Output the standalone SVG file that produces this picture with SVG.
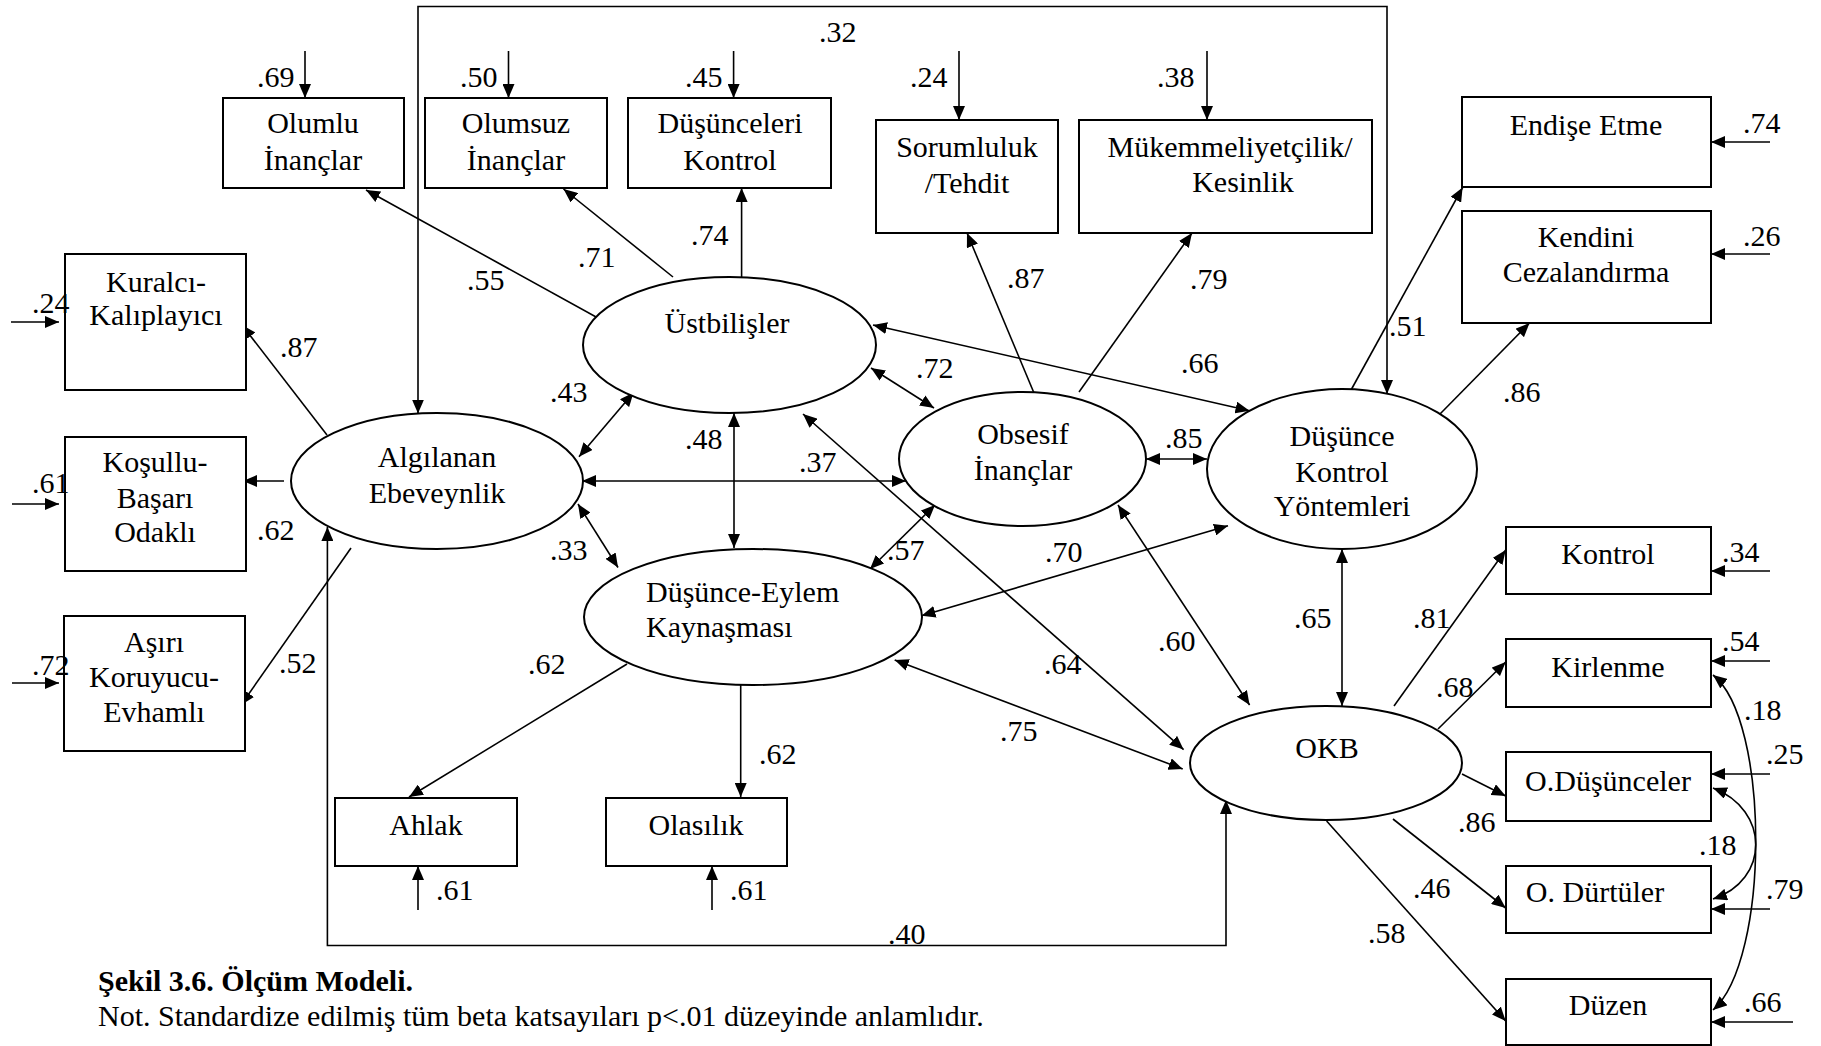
<svg xmlns="http://www.w3.org/2000/svg" width="1821" height="1046" viewBox="0 0 1821 1046">
<defs>
<marker id="ah" viewBox="0 0 14 12" refX="14" refY="6" markerWidth="14" markerHeight="12" markerUnits="userSpaceOnUse" orient="auto-start-reverse">
<path d="M0,0 L14,6 L0,12 z" fill="#000"/>
</marker>
<style>
text{font-family:"Liberation Serif","Times New Roman",serif;font-size:30px;fill:#000}
.c{text-anchor:middle}
.bx{fill:#fff;stroke:#000;stroke-width:2}
.el{fill:#fff;stroke:#000;stroke-width:2}
.ln{fill:none;stroke:#000;stroke-width:1.6}
.a{marker-end:url(#ah)}
.b{marker-start:url(#ah);marker-end:url(#ah)}
.cap{font-weight:bold}
</style>
</defs>
<rect width="1821" height="1046" fill="#fff"/>

<g id="connectors">
<!-- error terms -->
<path class="ln a" d="M305,51 V98"/>
<path class="ln a" d="M508.5,51 V98"/>
<path class="ln a" d="M733.6,51 V98"/>
<path class="ln a" d="M959,51 V120"/>
<path class="ln a" d="M1207,51 V120"/>
<path class="ln a" d="M1770,142 H1711"/>
<path class="ln a" d="M1770,254 H1711"/>
<path class="ln a" d="M11,322 H59"/>
<path class="ln a" d="M12,504 H59"/>
<path class="ln a" d="M12,683 H59"/>
<path class="ln a" d="M418,910 V866"/>
<path class="ln a" d="M712,910 V866"/>
<path class="ln a" d="M1770,571 H1711"/>
<path class="ln a" d="M1770,661 H1711"/>
<path class="ln a" d="M1770,774 H1711"/>
<path class="ln a" d="M1770,909 H1711"/>
<path class="ln a" d="M1793,1022 H1711"/>
<!-- loadings -->
<path class="ln a" d="M607,323 L366,190"/>
<path class="ln a" d="M673,277 L563.5,189"/>
<path class="ln a" d="M741.6,277 L741.6,188"/>
<path class="ln a" d="M1034,393 L967,233"/>
<path class="ln a" d="M1079,392 L1192,233"/>
<path class="ln a" d="M1350.5,391 L1462.6,187.5"/>
<path class="ln a" d="M1440,414 L1529.5,323"/>
<path class="ln a" d="M327,435 L242,325"/>
<path class="ln a" d="M284,481 L243,481"/>
<path class="ln a" d="M351,548 L241,705"/>
<path class="ln a" d="M627,664 L409,797"/>
<path class="ln a" d="M740.7,685 L740.7,797"/>
<path class="ln a" d="M1394,706 L1505.7,550"/>
<path class="ln a" d="M1438,729 L1505.7,662"/>
<path class="ln a" d="M1462,774 L1505.7,796"/>
<path class="ln a" d="M1393,819 L1505.7,908"/>
<path class="ln a" d="M1326.6,821 L1505.7,1021"/>
<!-- correlations -->
<path class="ln b" d="M633.6,392.5 L579,456.7"/>
<path class="ln b" d="M734,413 L734,548"/>
<path class="ln b" d="M582,481 L906,481"/>
<path class="ln b" d="M578,504 L618,567.5"/>
<path class="ln b" d="M871,368 L934,408"/>
<path class="ln b" d="M873,325 L1249.5,410.7"/>
<path class="ln b" d="M1146,459 L1207,459"/>
<path class="ln b" d="M935,505 L870,569"/>
<path class="ln b" d="M921.5,615.7 L1228,525.7"/>
<path class="ln b" d="M803,414 L1183.6,749.6"/>
<path class="ln b" d="M1118,505 L1249.6,705"/>
<path class="ln b" d="M894.7,660 L1182.7,769"/>
<path class="ln b" d="M1342,549 L1342,706"/>
<path class="ln b" d="M327.4,527 V945.5 H1226 V800"/>
<path class="ln b" d="M418,413.6 V6.5 H1387 V394"/>
<path class="ln b" d="M1713,675 C1770,720 1770,960 1713,1010"/>
<path class="ln b" d="M1713,788 C1770,810 1770,880 1713,899"/>
</g>

<g id="n-olumlu"><rect class="bx" x="223" y="98" width="181" height="90"/><text class="c" x="313" y="133">Olumlu</text><text class="c" x="313" y="170">İnançlar</text></g>
<g id="n-olumsuz"><rect class="bx" x="425" y="98" width="182" height="90"/><text class="c" x="516" y="133">Olumsuz</text><text class="c" x="516" y="170">İnançlar</text></g>
<g id="n-dkontrol"><rect class="bx" x="628" y="98" width="203" height="90"/><text class="c" x="730" y="133">Düşünceleri</text><text class="c" x="730" y="170">Kontrol</text></g>
<g id="n-sorumluluk"><rect class="bx" x="876" y="120" width="182" height="113"/><text class="c" x="967" y="157">Sorumluluk</text><text class="c" x="967" y="193">/Tehdit</text></g>
<g id="n-mukemmel"><rect class="bx" x="1079" y="120" width="293" height="113"/><text class="c" x="1230" y="157">Mükemmeliyetçilik/</text><text class="c" x="1243" y="192">Kesinlik</text></g>
<g id="n-endise"><rect class="bx" x="1462" y="97" width="249" height="90"/><text class="c" x="1586" y="135">Endişe Etme</text></g>
<g id="n-kendini"><rect class="bx" x="1462" y="211" width="249" height="112"/><text class="c" x="1586" y="247">Kendini</text><text class="c" x="1586" y="282">Cezalandırma</text></g>
<g id="n-kuralci"><rect class="bx" x="65" y="254" width="181" height="136"/><text class="c" x="156" y="292">Kuralcı-</text><text class="c" x="156" y="325">Kalıplayıcı</text></g>
<g id="n-kosullu"><rect class="bx" x="65" y="437" width="181" height="134"/><text class="c" x="155" y="472">Koşullu-</text><text class="c" x="155" y="508">Başarı</text><text class="c" x="155" y="542">Odaklı</text></g>
<g id="n-asiri"><rect class="bx" x="64" y="616" width="181" height="135"/><text class="c" x="154" y="652">Aşırı</text><text class="c" x="154" y="687">Koruyucu-</text><text class="c" x="154" y="722">Evhamlı</text></g>
<g id="n-ahlak"><rect class="bx" x="335" y="798" width="182" height="68"/><text class="c" x="426" y="835">Ahlak</text></g>
<g id="n-olasilik"><rect class="bx" x="606" y="798" width="181" height="68"/><text class="c" x="696" y="835">Olasılık</text></g>
<g id="n-kontrol"><rect class="bx" x="1506" y="527" width="205" height="67"/><text class="c" x="1608" y="564">Kontrol</text></g>
<g id="n-kirlenme"><rect class="bx" x="1506" y="639" width="205" height="68"/><text class="c" x="1608" y="677">Kirlenme</text></g>
<g id="n-odusunceler"><rect class="bx" x="1506" y="752" width="205" height="69"/><text class="c" x="1608" y="791">O.Düşünceler</text></g>
<g id="n-odurtuler"><rect class="bx" x="1506" y="866" width="205" height="67"/><text class="c" x="1595" y="902">O. Dürtüler</text></g>
<g id="n-duzen"><rect class="bx" x="1506" y="979" width="205" height="66"/><text class="c" x="1608" y="1015">Düzen</text></g>

<g id="n-ustbilisler"><ellipse class="el" cx="729.5" cy="345" rx="146.5" ry="68"/><text class="c" x="727" y="333">Üstbilişler</text></g>
<g id="n-algilanan"><ellipse class="el" cx="437" cy="481" rx="146" ry="68"/><text class="c" x="437" y="467">Algılanan</text><text class="c" x="437" y="503">Ebeveynlik</text></g>
<g id="n-obsesif"><ellipse class="el" cx="1022.5" cy="459" rx="123.5" ry="67"/><text class="c" x="1023" y="444">Obsesif</text><text class="c" x="1023" y="480">İnançlar</text></g>
<g id="n-dky"><ellipse class="el" cx="1342" cy="469" rx="135" ry="80"/><text class="c" x="1342" y="446">Düşünce</text><text class="c" x="1342" y="482">Kontrol</text><text class="c" x="1342" y="516">Yöntemleri</text></g>
<g id="n-dek"><ellipse class="el" cx="753" cy="617" rx="169" ry="68"/><text x="646" y="602">Düşünce-Eylem</text><text x="646" y="637">Kaynaşması</text></g>
<g id="n-okb"><ellipse class="el" cx="1326" cy="763" rx="136" ry="57"/><text class="c" x="1327" y="758">OKB</text></g>

<g id="labels">
<text x="819" y="42">.32</text>
<text x="257" y="87">.69</text>
<text x="460" y="87">.50</text>
<text x="685" y="87">.45</text>
<text x="910" y="87">.24</text>
<text x="1157" y="87">.38</text>
<text x="1743" y="133">.74</text>
<text x="1743" y="246">.26</text>
<text x="32" y="313">.24</text>
<text x="32" y="493">.61</text>
<text x="32" y="675">.72</text>
<text x="436" y="900">.61</text>
<text x="730" y="900">.61</text>
<text x="1722" y="562">.34</text>
<text x="1722" y="651">.54</text>
<text x="1766" y="764">.25</text>
<text x="1766" y="899">.79</text>
<text x="1744" y="1012">.66</text>
<text x="467" y="290">.55</text>
<text x="578" y="267">.71</text>
<text x="691" y="245">.74</text>
<text x="1007" y="288">.87</text>
<text x="1190" y="289">.79</text>
<text x="1389" y="336">.51</text>
<text x="1503" y="402">.86</text>
<text x="280" y="357">.87</text>
<text x="257" y="540">.62</text>
<text x="279" y="673">.52</text>
<text x="528" y="674">.62</text>
<text x="759" y="764">.62</text>
<text x="1413" y="628">.81</text>
<text x="1436" y="697">.68</text>
<text x="1458" y="832">.86</text>
<text x="1413" y="898">.46</text>
<text x="1368" y="943">.58</text>
<text x="550" y="402">.43</text>
<text x="685" y="449">.48</text>
<text x="799" y="472">.37</text>
<text x="550" y="560">.33</text>
<text x="916" y="378">.72</text>
<text x="1181" y="373">.66</text>
<text x="1165" y="448">.85</text>
<text x="887" y="560">.57</text>
<text x="1045" y="562">.70</text>
<text x="1044" y="674">.64</text>
<text x="1158" y="651">.60</text>
<text x="1000" y="741">.75</text>
<text x="1294" y="628">.65</text>
<text x="888" y="944">.40</text>
<text x="1744" y="720">.18</text>
<text x="1699" y="855">.18</text>
</g>

<g id="caption">
<text class="cap" x="98" y="991">Şekil 3.6. Ölçüm Modeli.</text>
<text x="98" y="1026">Not. Standardize edilmiş tüm beta katsayıları p&lt;.01 düzeyinde anlamlıdır.</text>
</g>
</svg>
